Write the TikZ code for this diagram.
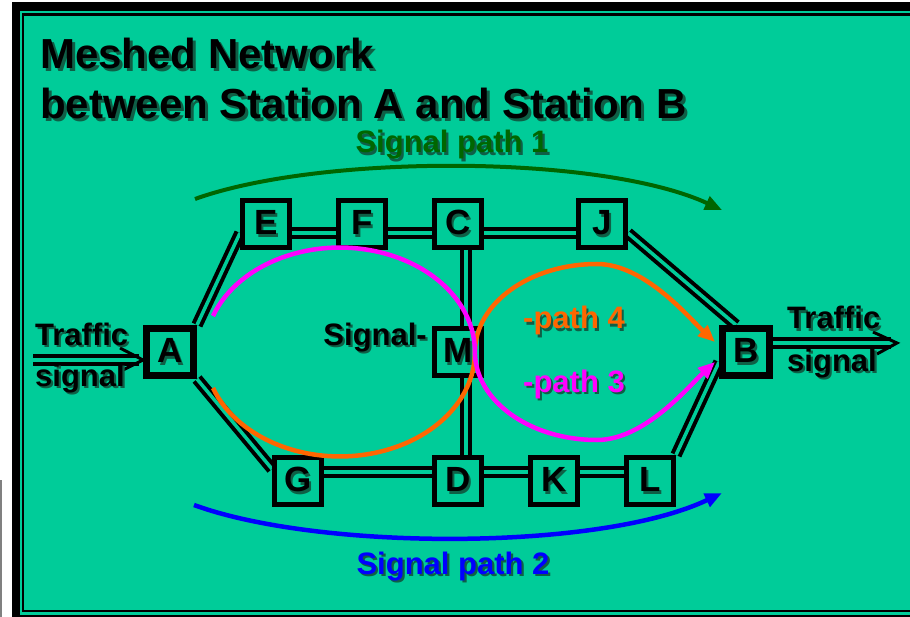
\documentclass[tikz,border=0pt]{standalone}
\usepackage{fontspec}
\setmainfont{Liberation Sans}
\usetikzlibrary{arrows.meta,calc,backgrounds}

\definecolor{meshbg}{RGB}{0,204,153}
\definecolor{shade}{RGB}{15,95,70}
\definecolor{pathgreen}{RGB}{0,102,0}
\definecolor{pathblue}{RGB}{0,0,255}
\definecolor{pathorange}{RGB}{255,102,0}
\definecolor{pathpink}{RGB}{255,0,255}
% text with a dark drop shadow
\newcommand{\shd}[1]{\makebox[0pt][l]{\hspace{0.07em}\raisebox{-0.07em}{\textcolor{shade}{#1}}}#1}

\begin{document}
\begin{tikzpicture}[x=1pt,y=-1pt,
  stn/.style={draw,line width=5pt,fill=meshbg,minimum size=47pt,inner sep=0pt,font=\fontsize{35}{35}\selectfont\bfseries},
  hub/.style={stn,line width=7pt},
  link/.style={draw=black,line width=4pt,double=meshbg,double distance=3.5pt},
  barb/.style={line width=3pt},
  lab/.style={font=\fontsize{31}{31}\selectfont\bfseries,inner sep=0pt},
  route/.style={line width=4.5pt,-{Triangle[length=17pt,width=14pt]}}]
\useasboundingbox (0,0) rectangle (910,617);
% frame: thick black edge, thin inner line
\begin{scope}[on background layer]
\fill[white] (0,0) rectangle (910,617);
\draw[gray,line width=2pt] (1,480) -- (1,617);
\fill[black] (12,2) rectangle (910,617);
\fill[meshbg] (20,11) rectangle (910,614.5);
\fill[black] (22,13) rectangle (910,612.3);
\fill[meshbg] (24.3,15.7) rectangle (910,610);
\end{scope}
\node[anchor=north west,inner sep=0pt,align=left,font=\fontsize{42}{50}\selectfont\bfseries] (title) at (40,38)
  {\shd{Meshed Network}\\\shd{between Station A and Station B}};
% stations
\node[hub] (A) at (170,352) {\shd{A}};
\node[hub] (B) at (746,352) {\shd{B}};
\foreach \n/\x/\y in {E/266/224, F/362/224, C/458/224, J/602/224, M/458/352, G/298/481, D/458/481, K/554/481, L/650/481}
  \node[stn] (\n) at (\x,\y) {\shd{\n}};
% double links behind the boxes
\begin{scope}[on background layer]
\foreach \a/\b/\d in {E/F/-9, F/C/-9, C/J/-9, G/D/9, D/K/9, K/L/9}
  \draw[link] ([yshift=\d pt]\a.east) -- ([yshift=\d pt]\b.west);
\foreach \a/\b in {C/M, M/D}
  \draw[link] ([xshift=8pt]\a.south) -- ([xshift=8pt]\b.north);
\draw[link] (A.north east) -- ([yshift=-9pt]E.west);
\draw[link] (A.south east) -- ([yshift=12pt]G.west);
\draw[link] ([yshift=-9pt]J.east) -- ([xshift=-10pt]B.north);
\draw[link] (L.north east) -- ([yshift=-10pt]B.west);
\end{scope}
% traffic in and out
\coordinate (inL) at (33,360);
\coordinate (tipA) at ([yshift=-8pt]A.west);
\coordinate (outB) at (897,343);
\draw[link,shorten >=4pt] (inL) -- (tipA);
\draw[barb] ($(tipA)+(-23,-12)$) -- (tipA) -- ($(tipA)+(-20,10)$);
\draw[link,shorten >=6pt] ([yshift=9pt]B.east) -- (outB);
\draw[barb] ($(outB)+(-24,-11)$) -- (outB) -- ($(outB)+(-20,11)$);
\node[lab,anchor=base west] (tin1) at (35,345) {\shd{Traffic}};
\node[lab,anchor=base west] (tin2) at (35,386) {\shd{signal}};
\node[lab,anchor=base west] (tout1) at (787,329) {\shd{Traffic}};
\node[lab,anchor=base west] (tout2) at (787,371) {\shd{signal}};
% signal paths
\coordinate (p1s) at (195,199); \coordinate (p1e) at (722,210);
\coordinate (p2s) at (194,505); \coordinate (p2e) at (722,493);
\draw[route,pathgreen,line width=4pt] (p1s) .. controls (320,154) and (600,154) .. (p1e);
\draw[route,pathblue] (p2s) .. controls (320,551) and (600,551) .. (p2e);
\draw[route,pathorange] (213,388) arc[start angle=160,end angle=0,x radius=135,y radius=104]
  .. controls (475,303) and (530,264) .. (597,264) .. controls (645,264) and (690,319) .. (715,342);
\draw[route,pathpink] (213,316) arc[start angle=200,end angle=360,x radius=135,y radius=104]
  .. controls (475,401) and (530,440) .. (597,440) .. controls (645,440) and (690,385) .. (715,362);
\node[lab,anchor=base,text=pathgreen] (sp1) at (452,153) {\shd{Signal path 1}};
\node[lab,anchor=base,text=pathblue] (sp2) at (453,574) {\shd{Signal path 2}};
\node[lab,anchor=base east] (sig) at (427,345) {\shd{Signal-}};
\node[lab,anchor=base west,text=pathorange] (sp4) at (523,329) {\shd{-path 4}};
\node[lab,anchor=base west,text=pathpink] (sp3) at (523,392) {\shd{-path 3}};
\end{tikzpicture}
\end{document}
